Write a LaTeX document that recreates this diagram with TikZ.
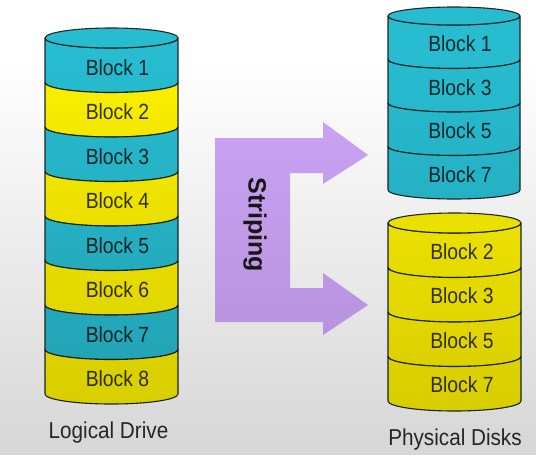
\documentclass[tikz,border=0pt]{standalone}
\usepackage{fontspec}
\setmainfont{Liberation Sans}
\newfontfamily\blkfont[FakeStretch=0.88]{Liberation Sans}
\newfontfamily\capfont[FakeStretch=0.9]{Liberation Sans}
\usetikzlibrary{fadings}
\definecolor{cyanblk}{RGB}{40,188,208}
\definecolor{yellowblk}{RGB}{252,240,0}
\definecolor{stripecol}{RGB}{208,166,250}
\definecolor{edgecol}{RGB}{30,40,40}
\definecolor{txtcol}{RGB}{45,45,45}
\tikzfading[name=bgfade, top color=transparent!100, middle color=transparent!93, bottom color=transparent!84]
\tikzset{
  cylline/.style={draw=edgecol, line width=1.1pt, line join=round},
  blk/.style={font=\blkfont\fontsize{22}{24}\selectfont, text=black, text opacity=0.78, inner sep=0pt},
  caption/.style={font=\capfont\fontsize{23}{25}\selectfont, text=txtcol, inner sep=0pt},
  stripetxt/.style={font=\bfseries\fontsize{25}{27}\selectfont, text=black!90, inner sep=0pt, rotate=-90}
}
\begin{document}
\begin{tikzpicture}[x=1pt,y=-1pt]
\useasboundingbox (0,0) rectangle (537,455);
\fill[white] (0,0) rectangle (537,455);

% ---------- Logical drive ----------
\foreach \k/\c in {1/cyanblk,2/yellowblk,3/cyanblk,4/yellowblk,5/cyanblk,6/yellowblk,7/cyanblk,8/yellowblk}{
  \pgfmathsetmacro\ya{38+44.5*(\k-1)}
  \pgfmathsetmacro\yb{38+44.5*\k}
  \filldraw[cylline, fill=\c] (45,\ya) arc[start angle=180,end angle=0,x radius=66.5,y radius=10]
     -- (178,\yb) arc[start angle=0,end angle=180,x radius=66.5,y radius=10] -- cycle;
}
\filldraw[cylline, fill=cyanblk] (111.5,38) ellipse[x radius=66.5,y radius=10];
\foreach \k in {1,...,8}{
  \pgfmathsetmacro\yl{67.25+44.5*(\k-1)}
  \node[blk] (L\k) at (117.5,\yl) {Block \k};
}

% ---------- Physical disk 1 ----------
\foreach \k in {1,...,4}{
  \pgfmathsetmacro\ya{16+43.5*(\k-1)}
  \pgfmathsetmacro\yb{16+43.5*\k}
  \filldraw[cylline, fill=cyanblk] (388,\ya) arc[start angle=180,end angle=0,x radius=66,y radius=9]
     -- (520,\yb) arc[start angle=0,end angle=180,x radius=66,y radius=9] -- cycle;
}
\filldraw[cylline, fill=cyanblk] (454,16) ellipse[x radius=66,y radius=9];
\foreach \k/\t in {1/1,2/3,3/5,4/7}{
  \pgfmathsetmacro\yl{43.75+43.5*(\k-1)}
  \node[blk] (A\k) at (460,\yl) {Block \t};
}

% ---------- Physical disk 2 ----------
\foreach \k in {1,...,4}{
  \pgfmathsetmacro\ya{223+44.5*(\k-1)}
  \pgfmathsetmacro\yb{223+44.5*\k}
  \filldraw[cylline, fill=yellowblk] (388,\ya) arc[start angle=180,end angle=0,x radius=66.5,y radius=10]
     -- (521,\yb) arc[start angle=0,end angle=180,x radius=66.5,y radius=10] -- cycle;
}
\filldraw[cylline, fill=yellowblk] (454.5,223) ellipse[x radius=66.5,y radius=10];
\foreach \k/\t in {1/2,2/3,3/5,4/7}{
  \pgfmathsetmacro\yl{251.25+44.5*(\k-1)}
  \node[blk] (B\k) at (462,\yl) {Block \t};
}

% ---------- Striping arrow ----------
\fill[stripecol] (215,138) -- (323,138) -- (323,122) -- (368,155) -- (323,184) -- (323,173)
  -- (290,173) -- (290,288) -- (323,288) -- (323,273) -- (368,305) -- (323,335) -- (323,322)
  -- (215,322) -- cycle;
\node[stripetxt] (S) at (255,225) {Striping};

% ---------- Captions ----------
\node[caption] (LD) at (108.5,433) {Logical Drive};
\node[caption] (PD) at (455,440) {Physical Disks};

% ---------- overall shading ----------
\fill[black, path fading=bgfade] (0,60) rectangle (537,455);
\end{tikzpicture}
\end{document}
